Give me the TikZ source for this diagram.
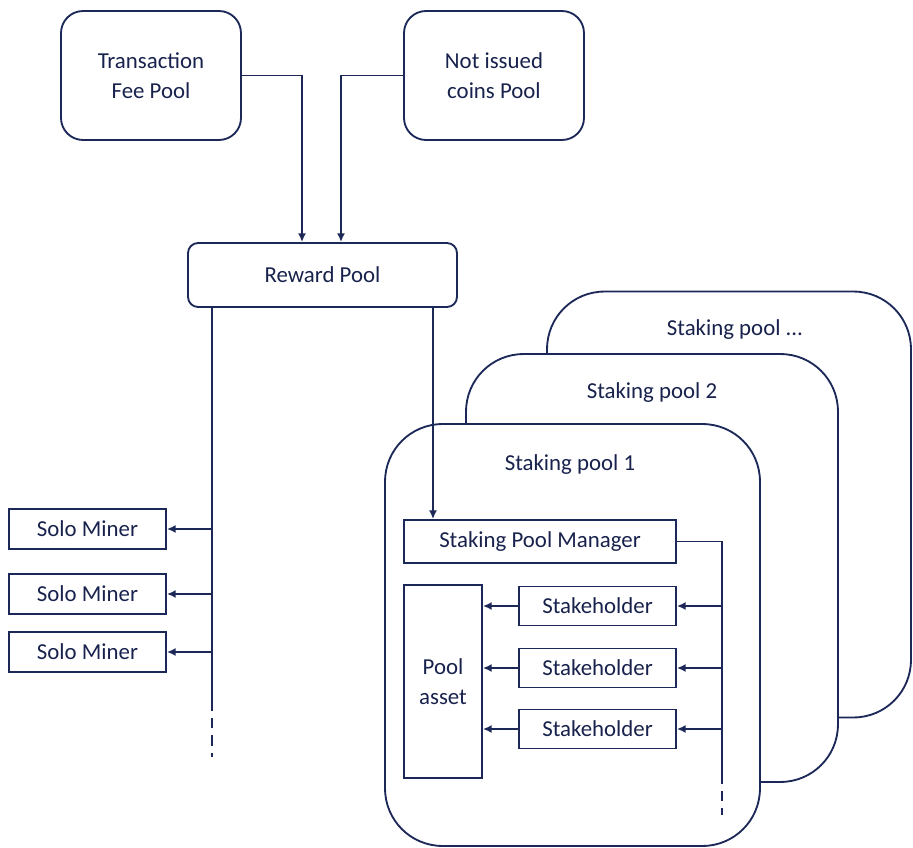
\documentclass[tikz,border=0pt]{standalone}
\usepackage{fontspec}
\setmainfont{Carlito}
\usetikzlibrary{arrows.meta}
\definecolor{navy}{RGB}{28,40,88}
\definecolor{navytext}{RGB}{24,34,76}
\begin{document}
\begin{tikzpicture}[x=0.02cm,y=-0.02cm,
  every node/.style={font=\fontsize{13pt}{17pt}\selectfont,text=navytext},
  line/.style={draw=navy,line width=1.05pt},
  arr/.style={line,-{Latex[length=5pt,width=4.6pt]}},
  topbox/.style={line,rounded corners=0.44cm,align=center,inner sep=0pt},
  rbox/.style={line,inner sep=0pt,align=center},
  poolbox/.style={line,fill=white,rounded corners=1.15cm,inner sep=0pt},
  lbl/.style={inner sep=1pt}]
\useasboundingbox (0,0) rectangle (913,848);
% top pools
\node[topbox,minimum width=3.6cm,minimum height=2.58cm] (tfp) at (151,75.5) {Transaction\\Fee Pool};
\node[topbox,minimum width=3.6cm,minimum height=2.58cm] (nic) at (494,75.5) {Not issued\\coins Pool};
\node[rbox,rounded corners=0.2cm,minimum width=5.38cm,minimum height=1.28cm] (rp) at (322.5,275) {Reward Pool};
% staking pools
\node[poolbox,minimum width=7.28cm,minimum height=8.52cm] (spn) at (729,504.5) {};
\node[lbl] (spnl) at (735,330) {Staking pool ...};
\node[poolbox,minimum width=7.44cm,minimum height=8.56cm] (sp2) at (652,568) {};
\node[lbl] (sp2l) at (652,393) {Staking pool 2};
\node[poolbox,minimum width=7.5cm,minimum height=8.44cm] (sp1) at (572.5,635) {};
\node[lbl] (sp1l) at (570,465) {Staking pool 1};
% inner boxes
\node[rbox,minimum width=5.44cm,minimum height=0.86cm] (spm) at (540,541.5) {Staking Pool Manager};
\node[rbox,minimum width=1.56cm,minimum height=3.86cm] (pa) at (443,681.5) {Pool\\asset};
\node[rbox,minimum width=3.14cm,minimum height=0.78cm] (sh1) at (597.5,606) {Stakeholder};
\node[rbox,minimum width=3.14cm,minimum height=0.78cm] (sh2) at (597.5,668) {Stakeholder};
\node[rbox,minimum width=3.14cm,minimum height=0.78cm] (sh3) at (597.5,729) {Stakeholder};
% solo miners
\node[rbox,minimum width=3.14cm,minimum height=0.8cm] (sm1) at (87.5,529) {Solo Miner};
\node[rbox,minimum width=3.14cm,minimum height=0.8cm] (sm2) at (87.5,594) {Solo Miner};
\node[rbox,minimum width=3.14cm,minimum height=0.8cm] (sm3) at (87.5,652) {Solo Miner};
% coordinates
\coordinate (ta) at (302,0);
\coordinate (na) at (341,0);
\coordinate (lv) at (212,700);
\coordinate (lve) at (212,757);
\coordinate (ra) at (433,0);
\coordinate (rv) at (722,773);
\coordinate (rve) at (722,815);
% connectors
\draw[arr] (tfp.east) -| (ta |- rp.north);
\draw[arr] (nic.west) -| (na |- rp.north);
\draw[line] (lv |- rp.south) -- (lv);
\draw[line,dash pattern=on 6pt off 4pt] (lv) -- (lve);
\draw[arr] (sm1 -| lv) -- (sm1.east);
\draw[arr] (sm2 -| lv) -- (sm2.east);
\draw[arr] (sm3 -| lv) -- (sm3.east);
\draw[arr] (ra |- rp.south) -- (ra |- spm.north);
\draw[line] (spm.east) -| (rv);
\draw[line,dash pattern=on 6pt off 4pt] (rv) -- (rve);
\draw[arr] (sh1 -| rv) -- (sh1.east);
\draw[arr] (sh2 -| rv) -- (sh2.east);
\draw[arr] (sh3 -| rv) -- (sh3.east);
\draw[arr] (sh1.west) -- (pa.east |- sh1);
\draw[arr] (sh2.west) -- (pa.east |- sh2);
\draw[arr] (sh3.west) -- (pa.east |- sh3);
\end{tikzpicture}
\end{document}
